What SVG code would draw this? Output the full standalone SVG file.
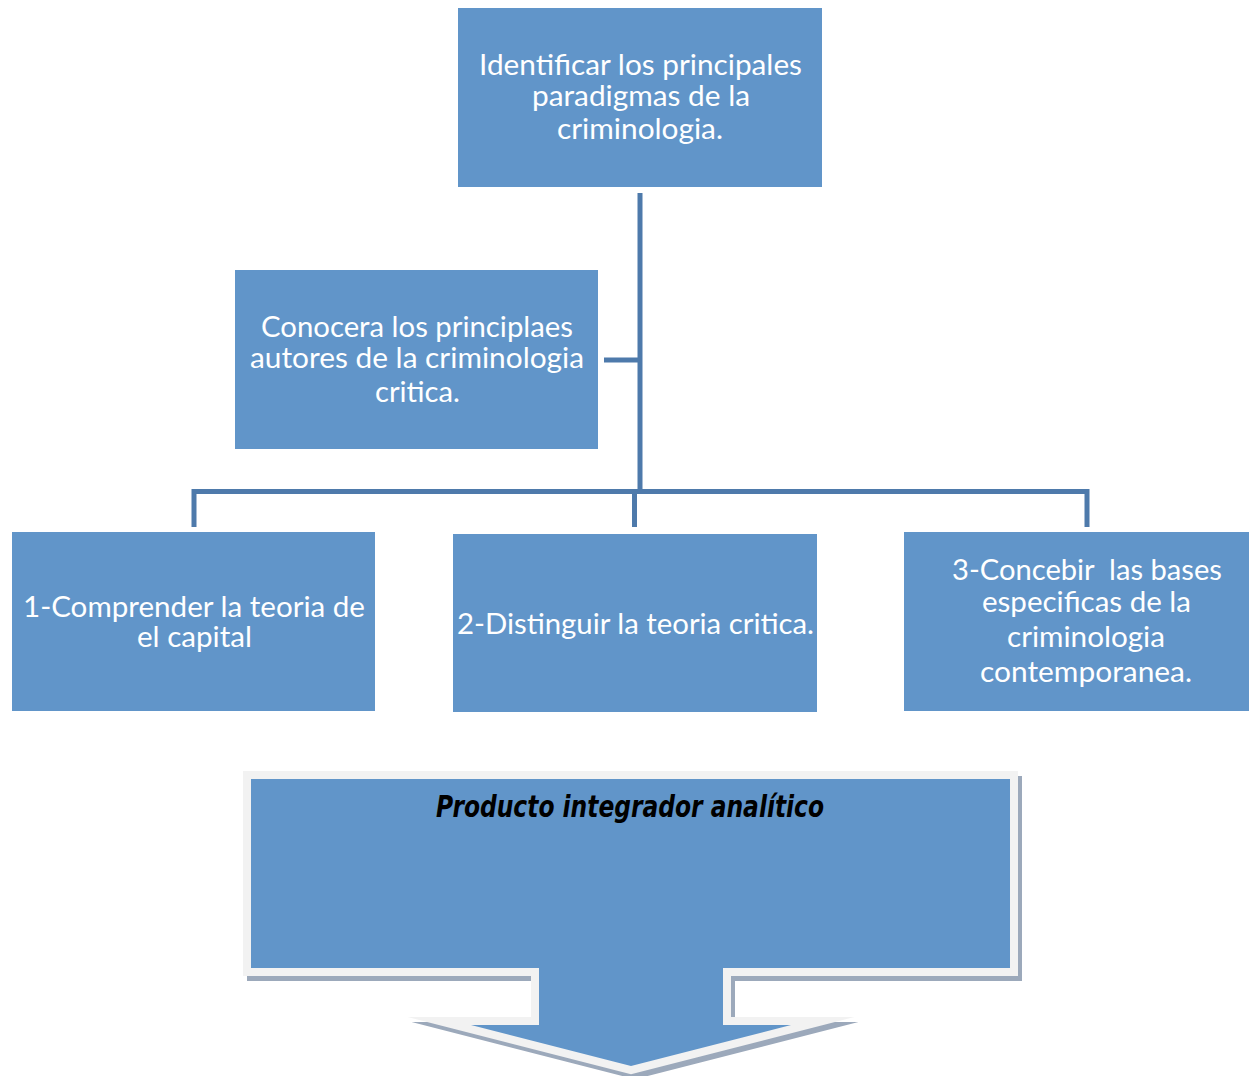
<svg xmlns="http://www.w3.org/2000/svg" width="1249" height="1076" viewBox="0 0 1249 1076">
<style>
.box{fill:#6195C9;}
.t{font-family:Lato,"Liberation Sans",sans-serif;font-size:28px;fill:#FFFFFF;text-anchor:middle;}
.c{stroke:#4E7AAB;stroke-width:5;fill:none;}
.ptitle{font-family:"DejaVu Sans",sans-serif;font-weight:bold;font-style:italic;font-size:30px;fill:#000000;text-anchor:middle;}
</style>
<rect width="1249" height="1076" fill="#FFFFFF"/>
<g id="connectors">
<line class="c" x1="640" y1="193" x2="640" y2="494"/>
<line class="c" x1="604" y1="360" x2="640" y2="360"/>
<polyline class="c" points="194,527 194,491.5 1087,491.5 1087,527"/>
<line class="c" x1="634.5" y1="491" x2="634.5" y2="527"/>
</g>
<g id="node-top">
<rect class="box" x="458" y="8" width="364" height="179"/>
<text class="t"><tspan x="640.5" y="75" textLength="323" lengthAdjust="spacingAndGlyphs">Identificar los principales</tspan><tspan x="641" y="106" textLength="218" lengthAdjust="spacingAndGlyphs">paradigmas de la</tspan><tspan x="640" y="139" textLength="166" lengthAdjust="spacingAndGlyphs">criminologia.</tspan></text>
</g>
<g id="node-conocera">
<rect class="box" x="235" y="270" width="363" height="179"/>
<text class="t"><tspan x="417" y="337" textLength="312" lengthAdjust="spacingAndGlyphs">Conocera los principlaes</tspan><tspan x="417" y="368" textLength="334" lengthAdjust="spacingAndGlyphs">autores de la criminologia</tspan><tspan x="417.5" y="402" textLength="85" lengthAdjust="spacingAndGlyphs">critica.</tspan></text>
</g>
<g id="node-1">
<rect class="box" x="12" y="532" width="363" height="179"/>
<text class="t"><tspan x="194" y="617" textLength="342" lengthAdjust="spacingAndGlyphs">1-Comprender la teoria de</tspan><tspan x="194.5" y="647" textLength="115" lengthAdjust="spacingAndGlyphs">el capital</tspan></text>
</g>
<g id="node-2">
<rect class="box" x="453" y="534" width="364" height="178"/>
<text class="t"><tspan x="635.5" y="634" textLength="357" lengthAdjust="spacingAndGlyphs">2-Distinguir la teoria critica.</tspan></text>
</g>
<g id="node-3">
<rect class="box" x="904" y="532" width="345" height="179"/>
<text class="t" xml:space="preserve"><tspan x="1087" y="580" textLength="270" lengthAdjust="spacingAndGlyphs">3-Concebir  las bases</tspan><tspan x="1086.5" y="612" textLength="209" lengthAdjust="spacingAndGlyphs">especificas de la</tspan><tspan x="1086" y="647" textLength="158" lengthAdjust="spacingAndGlyphs">criminologia</tspan><tspan x="1086" y="682" textLength="212" lengthAdjust="spacingAndGlyphs">contemporanea.</tspan></text>
</g>
<g id="node-producto">
<path transform="translate(4,5)" d="M251,779 H1010 V968 H723 V1025 H791 L631,1066 L471,1025 H539 V968 H251 Z" fill="#9CA9BB" stroke="#9CA9BB" stroke-width="16" stroke-miterlimit="10"/>
<path d="M251,779 H1010 V968 H723 V1025 H791 L631,1066 L471,1025 H539 V968 H251 Z" fill="#F2F2F2" stroke="#F2F2F2" stroke-width="16" stroke-miterlimit="10"/>
<path class="box" d="M251,779 H1010 V968 H723 V1025 H791 L631,1066 L471,1025 H539 V968 H251 Z"/>
<text class="ptitle" x="630" y="817" textLength="388" lengthAdjust="spacingAndGlyphs">Producto integrador analítico</text>
</g>
</svg>
